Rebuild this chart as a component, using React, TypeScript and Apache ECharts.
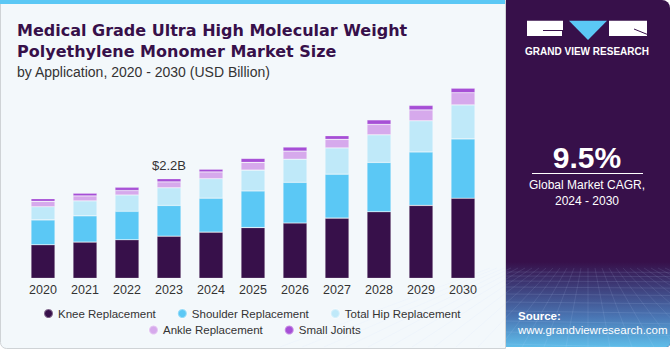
import React, { useEffect, useRef } from "react";
import * as echarts from "echarts";

const years = ["2020", "2021", "2022", "2023", "2024", "2025", "2026", "2027", "2028", "2029", "2030"];
const knee = [0.74, 0.8, 0.85, 0.93, 1.02, 1.12, 1.22, 1.33, 1.47, 1.61, 1.77];
const shoulder = [0.55, 0.58, 0.63, 0.68, 0.75, 0.81, 0.9, 0.97, 1.09, 1.18, 1.31];
const totalHip = [0.29, 0.33, 0.36, 0.39, 0.43, 0.46, 0.51, 0.58, 0.61, 0.69, 0.75];
const ankle = [0.12, 0.11, 0.1, 0.13, 0.15, 0.17, 0.18, 0.19, 0.23, 0.24, 0.27];
const smallJoints = [0.06, 0.06, 0.07, 0.07, 0.06, 0.09, 0.09, 0.08, 0.1, 0.1, 0.1];
const seriesNames = ["Knee Replacement", "Shoulder Replacement", "Total Hip Replacement", "Ankle Replacement", "Small Joints"];
const seriesColors = ["#37104a", "#5bc8f5", "#bfe9f9", "#d6a9ec", "#a64fd6"];
const highlightIndex = 3;
const highlightLabel = "$2.2B";

export default function App() {
  const ref = useRef<HTMLDivElement>(null);
  useEffect(() => {
    if (!ref.current) return;
    const chart = echarts.init(ref.current, null, { renderer: "svg" });
    const values = [knee, shoulder, totalHip, ankle, smallJoints];
    const series = values.map((arr, i) => ({
      type: "bar",
      name: seriesNames[i],
      stack: "total",
      barWidth: 24,
      itemStyle: { color: seriesColors[i], borderColor: "rgba(255,255,255,0.35)", borderWidth: 0.6 },
      data: arr.map((v, j) =>
        i === 4 && j === highlightIndex
          ? {
              value: v,
              label: {
                show: true,
                position: "top",
                distance: 7,
                formatter: highlightLabel,
                color: "#333",
                fontSize: 13,
                fontFamily: "Liberation Sans",
              },
            }
          : v
      ),
    }));

    // decorative perspective grid in the right panel
    const gridLines: any[] = [];
    const hy = [272, 276, 281, 287, 294, 302, 311, 321, 332, 344];
    hy.forEach((y) =>
      gridLines.push({
        type: "line",
        z: 1,
        shape: { x1: 506, y1: y, x2: 670, y2: y + (y - 265) * 0.05 },
        style: { stroke: "rgba(200,220,255,0.18)", lineWidth: 0.7 },
        silent: true,
      })
    );
    for (let k = -14; k <= 14; k++) {
      gridLines.push({
        type: "line",
        z: 1,
        shape: { x1: 588 + k * 7, y1: 268, x2: 588 + k * 22, y2: 347 },
        style: { stroke: "rgba(200,220,255,0.16)", lineWidth: 0.7 },
        silent: true,
      });
    }

    const font = "Liberation Sans";
    const legendText = { color: "#333", fontSize: 11.5, fontFamily: font };
    chart.setOption({
      animation: false,
      backgroundColor: "#ffffff",
      grid: { left: 22, width: 462, top: 74.6, bottom: 71.7 },
      xAxis: {
        type: "category",
        data: years,
        axisLine: { show: false },
        axisTick: { show: false },
        axisLabel: { color: "#333", fontSize: 12.5, margin: 5, fontFamily: font },
      },
      yAxis: { type: "value", min: 0, max: 4.5, show: false, splitLine: { show: false } },
      legend: [
        {
          data: seriesNames.slice(0, 3),
          left: 38,
          top: 302.5,
          icon: "circle",
          itemWidth: 9,
          itemHeight: 9,
          itemGap: 21,
          textStyle: legendText,
        },
        {
          data: seriesNames.slice(3),
          left: 143,
          top: 319,
          icon: "circle",
          itemWidth: 9,
          itemHeight: 9,
          itemGap: 21,
          textStyle: legendText,
        },
      ],
      graphic: [
        {
          type: "rect",
          z: -10,
          shape: { x: 0.5, y: 0.5, width: 505, height: 348, r: [0, 0, 0, 6] },
          style: { fill: "#f3f8fb", stroke: "#cfd3d6", lineWidth: 1 },
          silent: true,
        },
        {
          type: "rect",
          z: -9,
          shape: { x: 0, y: 0, width: 505, height: 4 },
          style: { fill: "#5bc8f5" },
          silent: true,
        },
        {
          type: "text",
          x: 17,
          y: 20,
          style: {
            text: "Medical Grade Ultra High Molecular Weight\nPolyethylene Monomer Market Size",
            fill: "#37104a",
            fontFamily: "DejaVu Sans",
            fontWeight: "bold",
            fontSize: 16,
            lineHeight: 21,
          },
        },
        {
          type: "text",
          x: 17,
          y: 65,
          style: { text: "by Application, 2020 - 2030 (USD Billion)", fill: "#333", fontFamily: font, fontSize: 14 },
        },
        // right panel
        {
          type: "rect",
          z: -10,
          shape: { x: 506, y: 0, width: 164, height: 347, r: [0, 8, 4, 0] },
          style: { fill: "#37104a" },
          silent: true,
        },
        {
          type: "rect",
          z: -9,
          shape: { x: 506, y: 262, width: 164, height: 85, r: [0, 0, 4, 0] },
          style: {
            fill: new echarts.graphic.LinearGradient(0, 0, 0, 1, [
              { offset: 0, color: "#37104a" },
              { offset: 0.25, color: "#3c3672" },
              { offset: 0.65, color: "#4a76b4" },
              { offset: 1, color: "#5fbde9" },
            ]),
          },
          silent: true,
        },
        ...gridLines,
        // logo
        { type: "rect", z: 5, shape: { x: 527, y: 20.7, width: 36, height: 15.3 }, style: { fill: "#ffffff" } },
        { type: "rect", z: 6, shape: { x: 543, y: 30, width: 20, height: 1 }, style: { fill: "#37104a" } },
        { type: "rect", z: 6, shape: { x: 562, y: 30, width: 1, height: 6 }, style: { fill: "#37104a" } },
        { type: "polygon", z: 5, shape: { points: [[569, 20.7], [607, 20.7], [588, 40]] }, style: { fill: "#5bc8f5" } },
        { type: "rect", z: 5, shape: { x: 609, y: 20.7, width: 38, height: 15.3 }, style: { fill: "#ffffff" } },
        { type: "line", z: 6, shape: { x1: 634, y1: 29, x2: 647, y2: 34.3 }, style: { stroke: "#37104a", lineWidth: 1 } },
        {
          type: "text",
          x: 587,
          y: 51,
          z: 5,
          style: {
            text: "GRAND VIEW RESEARCH",
            fill: "#ffffff",
            fontFamily: font,
            fontWeight: "bold",
            fontSize: 10,
            align: "center",
            verticalAlign: "middle",
          },
        },
        {
          type: "text",
          x: 587,
          y: 157,
          z: 5,
          style: { text: "9.5%", fill: "#ffffff", fontFamily: font, fontWeight: "bold", fontSize: 30, align: "center", verticalAlign: "middle" },
        },
        { type: "line", z: 5, shape: { x1: 532, y1: 173.5, x2: 643, y2: 173.5 }, style: { stroke: "#ffffff", lineWidth: 1 } },
        {
          type: "text",
          x: 587,
          y: 193,
          z: 5,
          style: {
            text: "Global Market CAGR,\n2024 - 2030",
            fill: "#ffffff",
            fontFamily: font,
            fontSize: 12,
            align: "center",
            verticalAlign: "middle",
            lineHeight: 16,
          },
        },
        {
          type: "text",
          x: 518,
          y: 316,
          z: 5,
          style: { text: "Source:", fill: "#ffffff", fontFamily: font, fontWeight: "bold", fontSize: 11.5, verticalAlign: "middle" },
        },
        {
          type: "text",
          x: 518,
          y: 329.5,
          z: 5,
          style: { text: "www.grandviewresearch.com", fill: "#ffffff", fontFamily: font, fontSize: 11.5, verticalAlign: "middle" },
        },
      ],
      series,
    });
    return () => chart.dispose();
  }, []);
  return <div ref={ref} style={{ position: "absolute", left: 0, top: 0, width: 670, height: 350 }} />;
}
